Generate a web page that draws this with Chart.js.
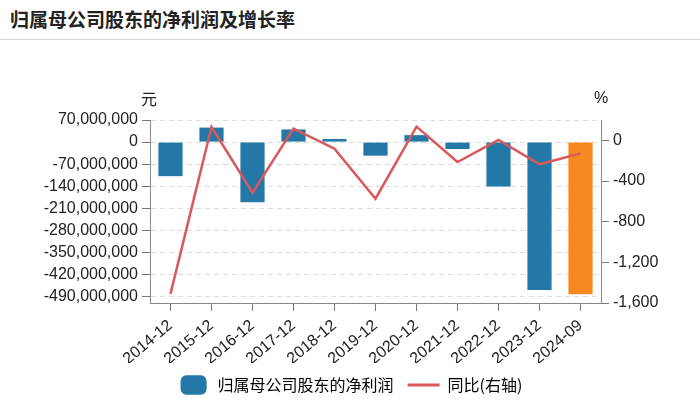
<!DOCTYPE html>
<html>
<head>
<meta charset="utf-8">
<script src="https://cdn.jsdelivr.net/npm/chart.js@4/dist/chart.umd.min.js"></script>
<style>
  body { margin: 0; background: #fff; }
  #wrap { position: relative; width: 700px; height: 409px; }
  #title {
    position: absolute; left: 0; top: 0; width: 700px; height: 40px;
    border-bottom: 1px solid #d8d8d8; box-sizing: border-box;
    font: bold 19px "Noto Sans CJK SC", sans-serif; color: #222;
    line-height: 38px; padding-left: 10px;
  }
  canvas { position: absolute; left: 0; top: 0; }
</style>
</head>
<body>
<div id="wrap">
  <div id="title">归属母公司股东的净利润及增长率</div>
  <canvas id="profitChart" width="700" height="409"></canvas>
</div>
<script>
const periods = ["2014-12", "2015-12", "2016-12", "2017-12", "2018-12", "2019-12",
  "2020-12", "2021-12", "2022-12", "2023-12", "2024-09"];
// 归属母公司股东的净利润 (元)
const netProfit = [-108000000, 46000000, -191000000, 40000000, 10000000, -43000000,
  22000000, -22000000, -141000000, -469000000, -482000000];
// 同比 (%)
const yoyGrowth = [-1510, 131, -515, 115, -82, -574, 135, -213, 5, -236, -128];
// left axis tick values (元)
const profitTicks = [70000000, 0, -70000000, -140000000, -210000000, -280000000,
  -350000000, -420000000, -490000000];

const blue = '#2378a8';
const orange = '#f6891f';
const red = '#d9585c';
const numFont = { family: '"Liberation Sans", Arial, sans-serif', size: 16 };

const unitLabels = {
  id: 'unitLabels',
  afterDraw(chart) {
    const c = chart.ctx, a = chart.chartArea;
    c.save();
    c.fillStyle = '#222';
    c.font = '16px "Noto Sans CJK SC", sans-serif';
    c.textAlign = 'center';
    c.textBaseline = 'middle';
    c.fillText('元', a.left - 1, a.top - 21);
    c.font = '16px "Liberation Sans", Arial, sans-serif';
    c.fillText('%', a.right, a.top - 21);
    c.restore();
  }
};

const ctx = document.getElementById('profitChart').getContext('2d');
new Chart(ctx, {
  type: 'bar',
  data: {
    labels: periods,
    datasets: [{
      type: 'bar',
      label: '归属母公司股东的净利润',
      data: netProfit,
      yAxisID: 'y',
      backgroundColor: (c) => c.dataIndex === periods.length - 1 ? orange : blue,
      categoryPercentage: 1,
      barPercentage: 0.59,
      order: 2
    }, {
      type: 'line',
      label: '同比(右轴)',
      data: yoyGrowth,
      yAxisID: 'y1',
      borderColor: red,
      backgroundColor: red,
      borderWidth: 2.5,
      pointRadius: 0,
      tension: 0,
      order: 1
    }]
  },
  options: {
    responsive: false,
    animation: false,
    layout: { padding: { top: 120, left: 0, right: 0, bottom: 6 } },
    plugins: {
      tooltip: { enabled: false },
      legend: {
        position: 'bottom',
        labels: {
          usePointStyle: true,
          pointStyleWidth: 32,
          boxHeight: 16,
          padding: 14,
          color: '#222',
          font: { family: '"Noto Sans CJK SC", sans-serif', size: 16 },
          generateLabels(chart) {
            return chart.data.datasets.map((d, i) => ({
              text: d.label,
              datasetIndex: i,
              fillStyle: i === 0 ? blue : red,
              strokeStyle: i === 0 ? blue : red,
              lineWidth: i === 0 ? 0 : 3,
              pointStyle: i === 0 ? 'rectRounded' : 'line',
              hidden: false
            }));
          }
        }
      }
    },
    scales: {
      x: {
        offset: true,
        grid: { drawOnChartArea: false, offset: false, tickLength: 8, color: '#777' },
        border: { color: '#888' },
        ticks: { color: '#222', font: { family: numFont.family, size: 16 }, minRotation: 40, maxRotation: 40, padding: 5 },
        afterFit: (s) => { s.height = 60; }
      },
      y: {
        position: 'left',
        min: -510000000,
        max: 70000000,
        afterBuildTicks: (s) => {
          s.ticks = profitTicks.map(v => ({ value: v }));
        },
        ticks: {
          color: '#222',
          font: numFont,
          padding: 4,
          callback: (v) => v.toLocaleString('en-US')
        },
        grid: { color: '#dcdcdc', tickColor: '#777', tickLength: 8, tickBorderDash: [1, 0] },
        border: { color: '#888', dash: [5, 4] },
        afterFit: (s) => { s.width = 150; }
      },
      y1: {
        position: 'right',
        min: -1600,
        max: 200,
        ticks: {
          stepSize: 200,
          color: '#222',
          font: numFont,
          padding: 4,
          callback: (v) => v % 400 === 0 ? v.toLocaleString('en-US') : ''
        },
        grid: { drawOnChartArea: false, tickColor: '#777', tickLength: 8 },
        border: { color: '#888' },
        afterFit: (s) => { s.width = 99; }
      }
    }
  },
  plugins: [unitLabels]
});
</script>
</body>
</html>
